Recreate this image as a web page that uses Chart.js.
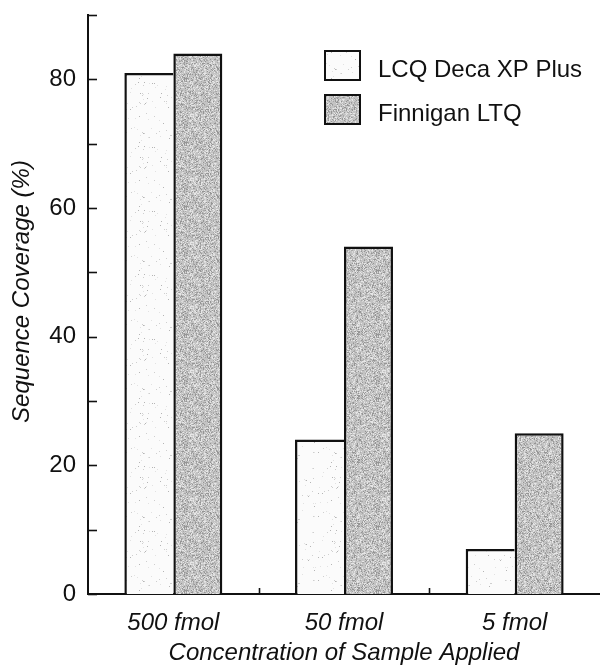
<!DOCTYPE html>
<html>
<head>
<meta charset="utf-8">
<script src="https://cdn.jsdelivr.net/npm/chart.js@4.4.0/dist/chart.umd.min.js"></script>
<style>
  html, body { margin: 0; padding: 0; background: #fff; }
  canvas { display: block; }
</style>
</head>
<body>
<canvas id="grafico" width="600" height="668"></canvas>
<script>
// data
const categories = ['500 fmol', '50 fmol', '5 fmol'];
const seriesNames = ['LCQ Deca XP Plus', 'Finnigan LTQ'];
const lcqValues = [81, 24, 7];
const ltqValues = [84, 54, 25];
const yTicks = [0, 20, 40, 60, 80];
const yMinorTicks = [10, 30, 50, 70, 90];
const yTitle = 'Sequence Coverage (%)';
const xTitle = 'Concentration of Sample Applied';

const fuente = 'Liberation Sans, Arial, Helvetica, sans-serif';

// stippled fill like the scanned print (fixed seed, only a texture)
function trama(base, puntos, cantidad, semilla) {
  var c = document.createElement('canvas');
  c.width = 64; c.height = 64;
  var g = c.getContext('2d');
  g.fillStyle = base;
  g.fillRect(0, 0, 64, 64);
  var s = semilla;
  function rnd() { s = (s * 1103515245 + 12345) % 2147483648; return s / 2147483648; }
  for (var i = 0; i < cantidad; i++) {
    g.fillStyle = puntos[Math.floor(rnd() * puntos.length)];
    g.fillRect(Math.floor(rnd() * 64), Math.floor(rnd() * 64), 1, 1);
  }
  return g.createPattern(c, 'repeat');
}
var ctx = document.getElementById('grafico').getContext('2d');
var rellenoLcq = trama('#fbfbfb', ['#cfcfcf', '#b5b5b5', '#e2e2e2'], 90, 7);
var rellenoLtq = trama('#c3c3c3', ['#959595', '#e6e6e6', '#a8a8a8', '#d8d8d8'], 2600, 13);

// ticks pointing inward, y title, legend boxes
const extras = {
  id: 'extras',
  afterDraw(chart) {
    var c = chart.ctx;
    var y = chart.scales.y, x = chart.scales.x;
    var area = chart.chartArea;
    c.save();
    c.strokeStyle = '#111';
    c.lineWidth = 1.6;
    yTicks.concat(yMinorTicks).forEach(function (v) {
      var py = Math.round(y.getPixelForValue(v)) + 0.5;
      c.beginPath(); c.moveTo(area.left, py); c.lineTo(area.left + 9, py); c.stroke();
    });
    for (var i = 0; i < categories.length - 1; i++) {
      var px = Math.round((x.getPixelForValue(i) + x.getPixelForValue(i + 1)) / 2) + 0.5;
      c.beginPath(); c.moveTo(px, area.bottom); c.lineTo(px, area.bottom - 6); c.stroke();
    }
    // y axis title, a bit above the middle as in the print
    c.save();
    c.translate(22, (area.top + area.bottom) / 2 - 13);
    c.rotate(-Math.PI / 2);
    c.fillStyle = '#111';
    c.font = 'italic 24px ' + fuente;
    c.textAlign = 'center';
    c.textBaseline = 'middle';
    c.fillText(yTitle, 0, 0);
    c.restore();
    // legend
    chart.data.datasets.forEach(function (ds, i) {
      var by = 51 + i * 44;
      c.fillStyle = ds.backgroundColor;
      c.fillRect(325, by, 35, 29);
      c.lineWidth = 2;
      c.strokeStyle = '#111';
      c.strokeRect(325, by, 35, 29);
      c.fillStyle = '#111';
      c.font = '24px ' + fuente;
      c.textBaseline = 'middle';
      c.fillText(ds.label, 378, by + 19);
    });
    c.restore();
  }
};

var chart = new Chart(ctx, {
  type: 'bar',
  data: {
    labels: categories,
    datasets: [{
      label: seriesNames[0],
      data: lcqValues,
      backgroundColor: rellenoLcq,
      borderColor: '#111',
      borderWidth: { top: 2.5, left: 2.5, right: 0, bottom: 0 }
    }, {
      label: seriesNames[1],
      data: ltqValues,
      backgroundColor: rellenoLtq,
      borderColor: '#111',
      borderWidth: 2.5
    }]
  },
  options: {
    responsive: false,
    animation: false,
    categoryPercentage: 0.574,
    barPercentage: 1,
    layout: { padding: { top: 15, right: 0, left: 0, bottom: 0 } },
    plugins: {
      legend: { display: false },
      tooltip: { enabled: false }
    },
    scales: {
      x: {
        grid: { display: false, drawTicks: false },
        border: { display: true, color: '#111', width: 2 },
        ticks: { color: '#111', padding: 15, font: { family: fuente, size: 24, style: 'italic' } },
        title: {
          display: true,
          text: xTitle,
          color: '#111',
          padding: { top: 0, bottom: 0 },
          font: { family: fuente, size: 24, style: 'italic' }
        },
        afterFit: function (s) { s.height = 74; s.paddingLeft = 0; s.paddingRight = 0; }
      },
      y: {
        min: 0,
        max: 90,
        grid: { display: false, drawTicks: false },
        border: { display: true, color: '#111', width: 2 },
        ticks: { color: '#111', padding: 12, font: { family: fuente, size: 24 } },
        afterBuildTicks: function (s) { s.ticks = yTicks.map(function (v) { return { value: v }; }); },
        afterFit: function (s) { s.width = 88; s.paddingTop = 0; s.paddingBottom = 0; }
      }
    }
  },
  plugins: [extras]
});
</script>
</body>
</html>
